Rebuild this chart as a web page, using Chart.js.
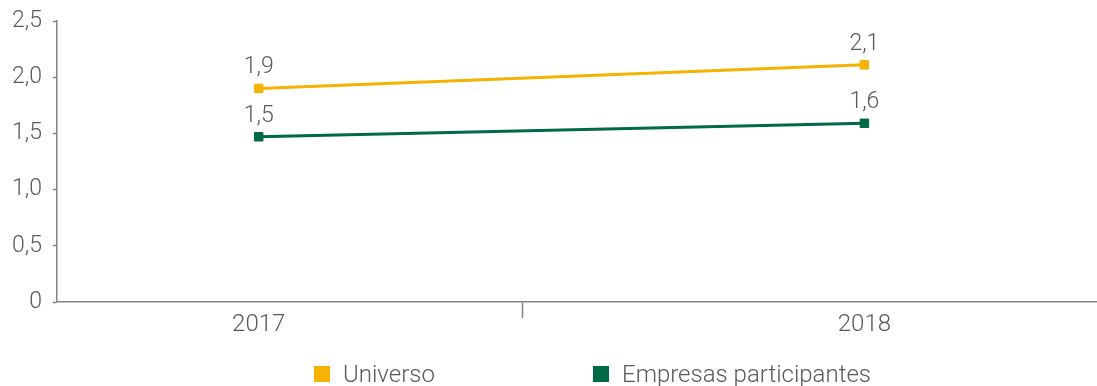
<!DOCTYPE html>
<html>
<head>
<meta charset="utf-8">
<script src="https://cdn.jsdelivr.net/npm/chart.js@4"></script>
<style>
  html, body { margin: 0; padding: 0; background: #fff; }
  #wrap { position: relative; width: 1097px; height: 386px; }
  #legend {
    position: absolute; left: 314px; top: 360px;
    display: flex; align-items: center;
    font-family: Roboto, 'DejaVu Sans', sans-serif; font-weight: 300;
    font-size: 24px; color: #5a5a5c;
  }
  .item { display: flex; align-items: center; }
  .item .box { width: 16px; height: 16px; margin-right: 13px; }
  .item:first-child { width: 279px; }
</style>
</head>
<body>
<div id="wrap">
  <canvas id="chart" width="1097" height="386"></canvas>
  <div id="legend"></div>
</div>
<script>
const YEARS = [2017, 2018];
const UNIVERSO = [1.9, 2.11];
const EMPRESAS = [1.47, 1.59];
const SERIES_NAMES = ['Universo', 'Empresas participantes'];
const SERIES_COLORS = ['#F6B200', '#006A47'];
const Y_TICKS = [0, 0.5, 1, 1.5, 2, 2.5];

const FONT = "Roboto, 'DejaVu Sans', sans-serif";
const TEXT = '#5a5a5c';
const AXIS = '#858585';

// mid tick between the two years, where the original draws its only x tick
const X_MIN = 2016.667, X_MAX = 2018.384, X_DIV = 2017.436;

const fmt = v => v === 0 ? '0' : v.toFixed(1).replace('.', ',');

const valueLabels = {
  id: 'valueLabels',
  afterDatasetsDraw(chart) {
    const { ctx } = chart;
    ctx.save();
    ctx.font = `300 23px ${FONT}`;
    ctx.fillStyle = TEXT;
    ctx.textAlign = 'center';
    ctx.textBaseline = 'alphabetic';
    chart.data.datasets.forEach((ds, i) => {
      chart.getDatasetMeta(i).data.forEach((pt, j) => {
        ctx.fillText(fmt(Math.round(ds.data[j].y * 10) / 10), pt.x, pt.y - 15);
      });
    });
    ctx.restore();
  },
};

const seriesData = [UNIVERSO, EMPRESAS];

new Chart(document.getElementById('chart'), {
  type: 'line',
  data: {
    datasets: seriesData.map((vals, i) => ({
      label: SERIES_NAMES[i],
      data: YEARS.map((yr, j) => ({ x: yr, y: vals[j] })),
      borderColor: SERIES_COLORS[i],
      backgroundColor: SERIES_COLORS[i],
      borderWidth: 3,
      pointStyle: 'rect',
      pointRadius: 6,
      pointBorderWidth: 1,
      tension: 0,
    })),
  },
  options: {
    responsive: false,
    animation: false,
    layout: { autoPadding: false, padding: { top: 21, right: 0, left: 0, bottom: 0 } },
    plugins: {
      legend: { display: false },
      tooltip: { enabled: false },
    },
    scales: {
      x: {
        type: 'linear',
        min: X_MIN,
        max: X_MAX,
        afterBuildTicks: s => { s.ticks = [{ value: YEARS[0] }, { value: X_DIV }, { value: YEARS[1] }]; },
        afterFit: s => { s.height = 84; s.paddingLeft = 0; s.paddingRight = 0; },
        border: { color: AXIS, width: 1.5 },
        grid: {
          drawOnChartArea: false,
          tickLength: 16,
          tickWidth: 1.5,
          tickColor: c => (c.tick && c.tick.value === X_DIV) ? AXIS : 'rgba(0,0,0,0)',
        },
        ticks: {
          autoSkip: false,
          maxRotation: 0,
          padding: -7,
          color: TEXT,
          font: { family: FONT, size: 24, weight: 300 },
          callback: v => YEARS.includes(v) ? String(v) : '',
        },
      },
      y: {
        min: 0,
        max: 2.5,
        afterBuildTicks: s => { s.ticks = Y_TICKS.map(v => ({ value: v })); },
        afterFit: s => { s.width = 57; s.paddingTop = 0; s.paddingBottom = 0; },
        border: { color: AXIS, width: 1.5 },
        grid: {
          drawOnChartArea: false,
          tickLength: 4,
          tickWidth: 1.5,
          tickColor: AXIS,
        },
        ticks: {
          padding: 11,
          color: TEXT,
          font: { family: FONT, size: 23, weight: 300 },
          callback: v => fmt(v),
        },
      },
    },
  },
  plugins: [valueLabels],
});

const legend = document.getElementById('legend');
SERIES_NAMES.forEach((name, i) => {
  const item = document.createElement('div');
  item.className = 'item';
  const box = document.createElement('span');
  box.className = 'box';
  box.style.background = SERIES_COLORS[i];
  const txt = document.createElement('span');
  txt.textContent = name;
  item.appendChild(box);
  item.appendChild(txt);
  legend.appendChild(item);
});
</script>
</body>
</html>
